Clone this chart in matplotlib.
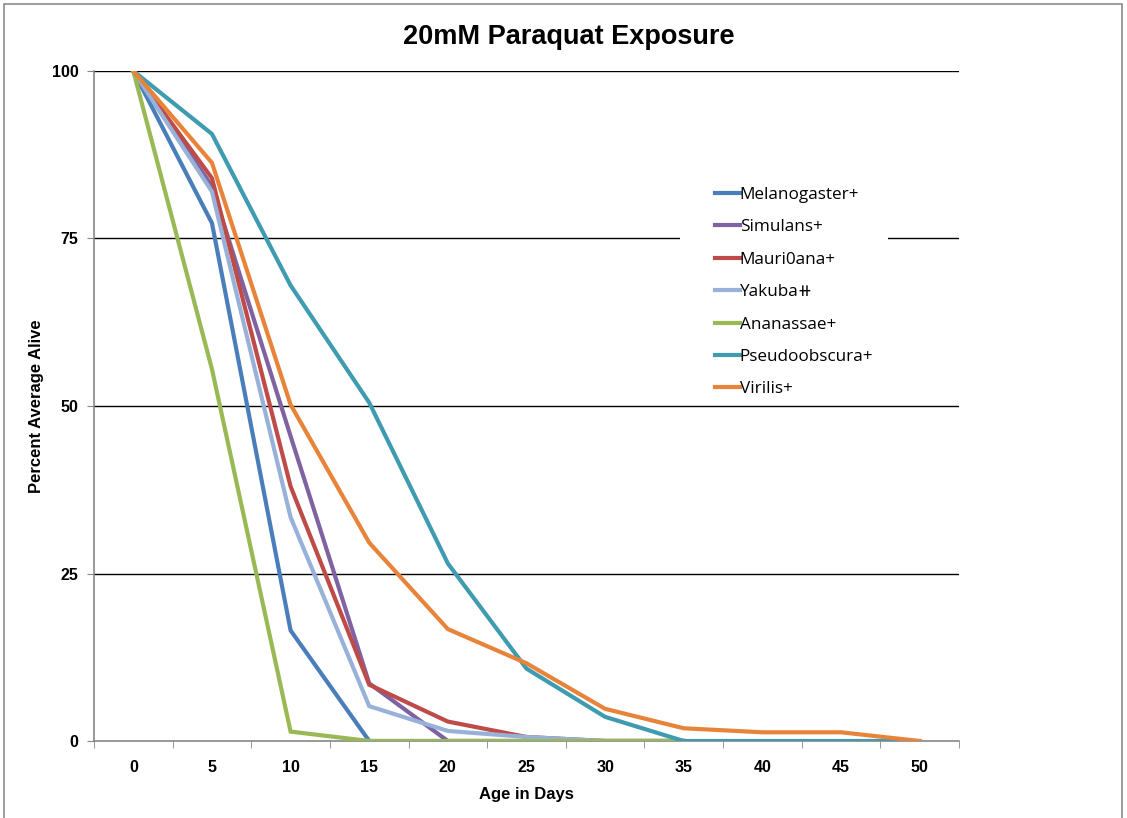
import numpy as np
import matplotlib.pyplot as plt
from matplotlib.patches import Rectangle

# ------------------------------------------------------------
# Survival data (percent alive per age point)
# ------------------------------------------------------------
days = [0, 5, 10, 15, 20, 25, 30, 35, 40, 45, 50]

melanogaster = [100, 77.3, 16.5, 0, 0, 0, 0, 0]
simulans = [100, 82.8, 45.5, 8.6, 0, 0, 0, 0]
mauritiana = [100, 84.0, 38.0, 8.4, 2.9, 0.6, 0, 0]
yakuba = [100, 82.0, 33.4, 5.2, 1.5, 0.6, 0, 0]
ananassae = [100, 55.5, 1.4, 0, 0, 0, 0, 0]
pseudoobscura = [100, 90.6, 68.0, 50.5, 26.5, 10.8, 3.6, 0, 0, 0, 0]
virilis = [100, 86.3, 50.2, 29.6, 16.7, 11.6, 4.8, 1.9, 1.3, 1.3, 0]

series_names = ["Melanogaster+", "Simulans+", "Mauri0ana+", "Yakuba\u29FA",
                "Ananassae+", "Pseudoobscura+", "Virilis+"]
series_values = [melanogaster, simulans, mauritiana, yakuba,
                 ananassae, pseudoobscura, virilis]
series_colors = ["#4A7EBB", "#7E62A1", "#BE4B48", "#98B1D8",
                 "#98B954", "#3E9BB0", "#E8843A"]

y_ticks = [0, 25, 50, 75, 100]

# ------------------------------------------------------------
# Figure
# ------------------------------------------------------------
plt.rcParams['font.family'] = ['Liberation Sans', 'DejaVu Sans']

W, H = 1127, 818
fig = plt.figure(figsize=(W / 100, H / 100), dpi=100)
ax = fig.add_axes([94 / W, 1 - 741 / H, 865 / W, 670 / H])

# outer chart frame
fig.patches.append(Rectangle((4 / W, -0.01), 1118 / W, 1 - 4 / H + 0.01,
                             transform=fig.transFigure, fill=False,
                             edgecolor="#8C8C8C", linewidth=1.2))

x_idx = np.arange(len(days))
for vals, name, col in zip(series_values, series_names, series_colors):
    ax.plot(x_idx[:len(vals)], vals, color=col, lw=3.0, label=name,
            solid_joinstyle="miter", zorder=3)

ax.set_xlim(-0.5, len(days) - 0.5)
ax.set_ylim(0, 100)

# gridlines
for v in y_ticks[1:]:
    ax.axhline(v, color="black", lw=1.0, zorder=1)

# x axis: labels centered on categories, ticks between them
ax.set_xticks(x_idx)
ax.set_xticklabels([str(d) for d in days], fontsize=11.5, fontweight="bold")
ax.set_xticks(np.arange(-0.5, len(days)), minor=True)
ax.tick_params(axis="x", which="major", length=0, pad=14)
ax.tick_params(axis="x", which="minor", length=5, color="#868686",
               direction="out")

ax.set_yticks(y_ticks)
ax.set_yticklabels([str(v) for v in y_ticks], fontsize=11.5, fontweight="bold")
ax.tick_params(axis="y", length=5, color="#868686", direction="out", pad=6)

for side in ["top", "right"]:
    ax.spines[side].set_visible(False)
for side in ["left", "bottom"]:
    ax.spines[side].set_color("#868686")
    ax.spines[side].set_linewidth(1.2)

ax.set_xlabel("Age in Days", fontsize=12, fontweight="bold", labelpad=8)
ax.set_ylabel("Percent Average Alive", fontsize=12, fontweight="bold",
              labelpad=6)

fig.text(0.505, 1 - 37 / H, "20mM Paraquat Exposure", ha="center",
         va="center", fontsize=19.5, fontweight="bold")

# legend area: white background box, then a frameless legend on top
ax.add_patch(Rectangle((680 / W, 1 - 398 / H), 208 / W, 220 / H,
                       transform=fig.transFigure, facecolor="white",
                       edgecolor="none", zorder=4, clip_on=False))
leg = ax.legend(loc="upper left", bbox_to_anchor=(715 / W, 1 - 187 / H),
                bbox_transform=fig.transFigure, frameon=False,
                handlelength=1.45, handletextpad=0.0, labelspacing=0.96,
                borderpad=0, borderaxespad=0,
                prop={"family": ["Open Sans", "DejaVu Sans"], "size": 12.3})
leg.set_zorder(5)
for line in leg.get_lines():
    line.set_linewidth(3.0)

fig.savefig("out.png", dpi=100)
